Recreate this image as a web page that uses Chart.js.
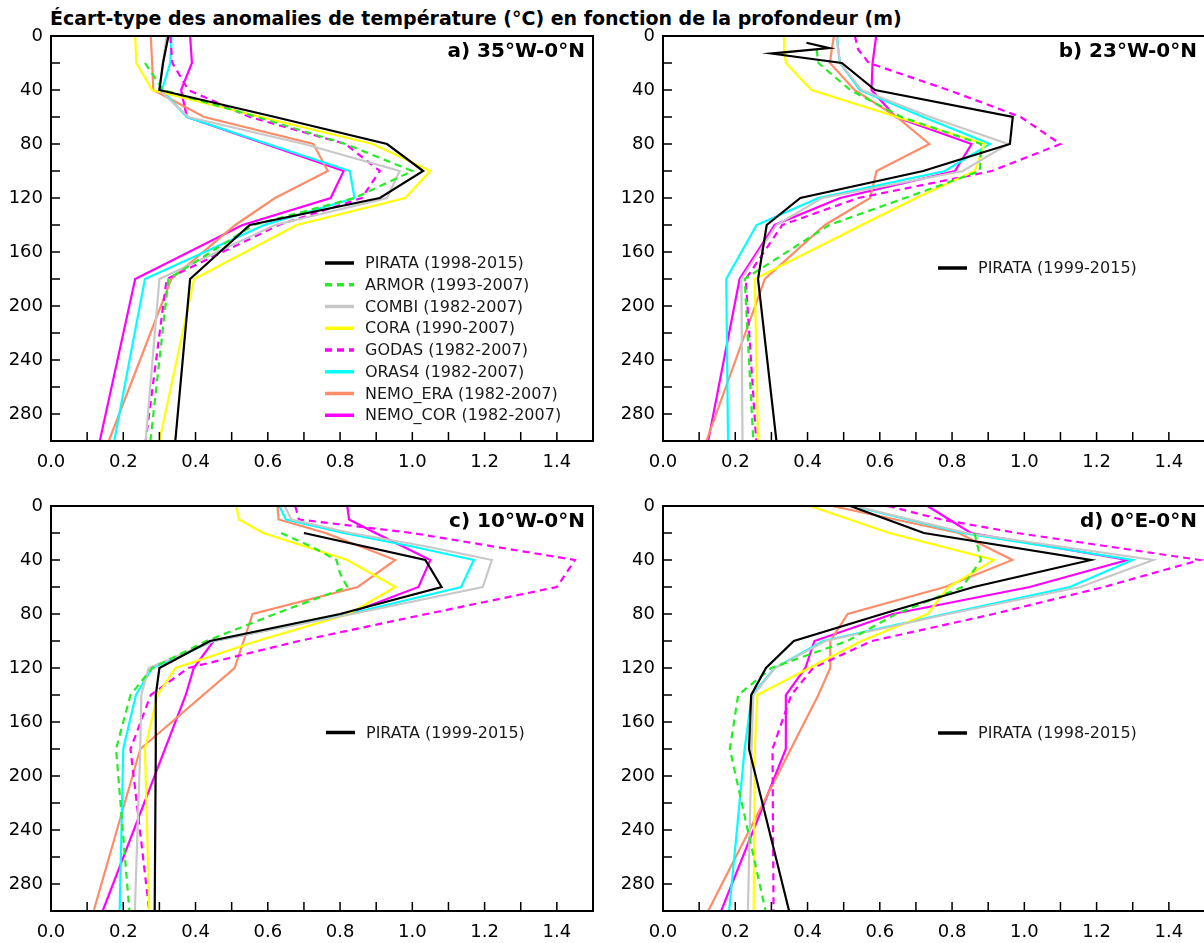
<!DOCTYPE html>
<html><head><meta charset="utf-8">
<script src="https://cdn.jsdelivr.net/npm/chart.js@4"></script>
<style>
html,body{margin:0;padding:0;background:#fff;overflow:hidden;width:1204px;height:943px;position:relative}
#title{position:absolute;left:50px;top:8px;font:bold 19px "DejaVu Sans";white-space:nowrap;color:#000;line-height:21px}
canvas{position:absolute}
</style></head><body>
<div id="title">Écart-type des anomalies de température (°C) en fonction de la profondeur (m)</div>
<canvas id="ca" width="600" height="455" style="left:0;top:24px"></canvas>
<canvas id="cb" width="593" height="455" style="left:612px;top:24px"></canvas>
<canvas id="cc" width="600" height="455" style="left:0;top:494px"></canvas>
<canvas id="cd" width="593" height="455" style="left:612px;top:494px"></canvas>
<script>
// ---- series metadata ----
const seriesNames = ['PIRATA','ARMOR','COMBI','CORA','GODAS','ORAS4','NEMO_ERA','NEMO_COR'];
const seriesYears = ['(1998-2015)','(1993-2007)','(1982-2007)','(1990-2007)','(1982-2007)','(1982-2007)','(1982-2007)','(1982-2007)'];
const seriesColors = ['#000000','#22ee22','#c8c8c8','#ffff00','#ff00ff','#00ffff','#ff8c69','#ff00ff'];
const seriesDashed = [false,true,false,false,true,false,false,false];
const pirataYears = ['(1998-2015)','(1999-2015)','(1999-2015)','(1998-2015)'];
const panelLabels = ['a) 35°W-0°N','b) 23°W-0°N','c) 10°W-0°N','d) 0°E-0°N'];

// ---- panel a : 35°W ----
const depthsA = [0,20,40,60,80,100,120,140,180,300];
const a_PIRATA   = [0.325,0.31,0.30,0.62,0.93,1.03,0.91,0.55,0.385,0.344];
const a_ARMOR    = [null,0.26,0.31,0.57,0.815,1.00,0.84,0.56,0.325,0.275];
const a_COMBI    = [0.32,0.31,0.30,0.38,0.70,0.965,0.93,0.62,0.30,0.262];
const a_CORA     = [0.233,0.236,0.28,0.58,0.89,1.05,0.98,0.68,0.396,0.30];
const a_GODAS    = [0.33,0.336,0.38,0.55,0.815,0.91,0.86,0.63,0.32,0.262];
const a_ORAS4    = [0.334,0.33,0.307,0.376,0.60,0.827,0.84,0.59,0.26,0.175];
const a_NEMO_ERA = [0.276,0.28,0.283,0.424,0.726,0.766,0.62,0.51,0.333,0.16];
const a_NEMO_COR = [0.385,0.39,0.36,0.376,0.593,0.81,0.774,0.53,0.233,0.135];

// ---- panel b : 23°W ----
const depthsB = [0,10,20,40,60,80,100,120,140,180,300];
const depthsB_PIRATA = [5,9,13,20,40,60,80,100,120,140,180,300];
const b_PIRATA   = [0.397,0.46,0.30,0.495,0.587,0.968,0.96,0.72,0.38,0.287,0.263,0.314];
const b_ARMOR    = [null,0.425,0.43,0.518,0.66,0.88,0.877,0.67,0.46,0.226,0.25];
const b_COMBI    = [0.48,0.485,0.49,0.55,0.74,0.955,0.83,0.44,0.314,0.217,0.22];
const b_CORA     = [0.335,0.335,0.34,0.411,0.647,0.89,0.863,0.70,0.55,0.254,0.263];
const b_GODAS    = [0.531,0.54,0.57,0.79,0.99,1.10,0.91,0.54,0.33,0.229,0.258];
const b_ORAS4    = [0.482,0.485,0.49,0.545,0.72,0.905,0.78,0.43,0.259,0.175,0.18];
const b_NEMO_ERA = [0.473,0.467,0.462,0.53,0.647,0.737,0.591,0.573,0.448,0.282,0.12];
const b_NEMO_COR = [0.59,0.585,0.58,0.577,0.644,0.854,0.808,0.49,0.309,0.212,0.125];

// ---- panel c : 10°W ----
const depthsC = [0,10,20,30,40,50,60,80,100,120,140,180,300];
const c_PIRATA   = [null,null,0.70,null,1.036,null,1.081,0.80,0.44,0.30,0.29,0.29,0.287];
const c_ARMOR    = [null,null,0.637,0.72,0.79,0.80,0.82,0.62,0.43,0.28,0.22,0.18,0.217];
const c_COMBI    = [0.647,0.665,0.83,1.04,1.22,null,1.195,0.834,0.45,0.27,0.25,0.247,0.232];
const c_CORA     = [0.513,0.52,0.587,null,0.82,null,0.953,0.824,0.57,0.345,0.295,0.26,0.272];
const c_GODAS    = [0.676,0.686,1.0,null,1.45,null,1.40,1.04,0.686,0.38,0.276,0.22,0.272];
const c_ORAS4    = [0.632,0.65,0.81,1.0,1.17,null,1.135,0.824,0.45,0.28,0.235,0.20,0.19];
const c_NEMO_ERA = [0.627,0.63,0.76,null,0.953,null,0.849,0.558,0.533,0.508,null,0.247,0.118];
const c_NEMO_COR = [0.82,0.825,0.898,null,1.05,null,1.017,0.82,0.45,0.395,0.373,null,0.143];

// ---- panel d : 0°E ----
const depthsD = [0,10,20,40,60,80,100,120,140,180,300];
const d_PIRATA   = [0.518,null,0.722,1.184,0.86,0.607,0.362,0.285,0.244,0.238,0.349];
const d_ARMOR    = [null,null,0.862,0.88,0.828,0.645,0.51,0.30,0.208,0.185,0.284];
const d_COMBI    = [0.53,null,0.84,1.357,1.155,0.79,0.45,0.31,0.25,0.245,0.235];
const d_CORA     = [0.407,null,0.626,0.916,0.79,0.732,0.549,0.405,0.261,0.254,0.251];
const d_GODAS    = [0.622,0.77,0.98,1.486,1.22,0.915,0.578,0.415,0.355,0.303,0.306];
const d_ORAS4    = [0.525,null,0.828,1.299,1.126,0.78,0.443,0.309,0.246,0.226,0.183];
const d_NEMO_ERA = [0.468,null,0.818,0.967,0.78,0.511,0.463,0.463,0.43,null,0.125];
const d_NEMO_COR = [0.732,null,0.852,1.285,1.015,0.636,0.419,0.394,0.34,0.34,0.161];

// ---- axis ticks ----
const xTickStep = 0.1, xLabelEvery = 2, xMax = 1.5;
const yTickStep = 20, yLabelEvery = 40, yMax = 300;

function toPoints(depths, vals){
  return depths.map((d,i)=> vals[i]==null ? null : {x: vals[i], y: d}).filter(p=>p);
}

function makeFramePlugin(cfg){
  return {
    id:'frame_'+cfg.id,
    afterDatasetsDraw(chart){
      const ctx = chart.ctx, a = chart.chartArea, xs = chart.scales.x, ys = chart.scales.y;
      ctx.save();
      ctx.setLineDash([]);
      ctx.strokeStyle = '#000';
      ctx.lineWidth = 1.5;
      ctx.beginPath();
      ys.ticks.forEach(t=>{ const py = ys.getPixelForValue(t.value); ctx.moveTo(a.left,py); ctx.lineTo(a.left+9,py); });
      xs.ticks.forEach(t=>{ const px = xs.getPixelForValue(t.value); ctx.moveTo(px,a.bottom); ctx.lineTo(px,a.bottom-9); });
      ctx.stroke();
      ctx.lineWidth = 2;
      ctx.strokeRect(a.left, a.top, a.right-a.left, a.bottom-a.top);
      // panel label
      ctx.fillStyle = '#000';
      ctx.font = 'bold 20px "DejaVu Sans"';
      ctx.textAlign = 'right';
      ctx.textBaseline = 'middle';
      ctx.fillText(cfg.label, a.right-8, a.top+16);
      // legend
      cfg.legend.forEach((di,k)=>{
        const ds = chart.data.datasets[di];
        const ly = a.top + cfg.legendY + k*21.75;
        const lx = a.left + cfg.legendX;
        ctx.strokeStyle = ds.borderColor;
        ctx.lineWidth = 3.5;
        ctx.setLineDash(ds.borderDash || []);
        ctx.beginPath(); ctx.moveTo(lx,ly); ctx.lineTo(lx+29,ly); ctx.stroke();
        ctx.setLineDash([]);
        ctx.fillStyle = '#1a1a1a';
        ctx.font = '16px "DejaVu Sans"';
        ctx.textAlign = 'left';
        ctx.fillText(ds.label, lx+40, ly+1);
      });
      ctx.restore();
    }
  };
}

function zeroPad(s){ s.paddingTop = 0; s.paddingBottom = 0; s.paddingLeft = 0; s.paddingRight = 0; }

function buildPanel(id, idx, depths, allVals, pirataDepths, legend, legendX, legendY, padRight){
  const datasets = allVals.map((vals,s)=>{
    const dep = (s===0 && pirataDepths) ? pirataDepths : depths;
    const label = seriesNames[s] + ' ' + (s===0 ? pirataYears[idx] : seriesYears[s]);
    return {
      label,
      data: toPoints(dep, vals),
      borderColor: seriesColors[s],
      backgroundColor: seriesColors[s],
      borderWidth: 2.2,
      borderDash: seriesDashed[s] ? [7,5] : [],
      showLine: true,
      pointRadius: 0,
      pointHoverRadius: 0,
      fill: false,
      tension: 0
    };
  });
  new Chart(document.getElementById(id), {
    type: 'scatter',
    data: { datasets },
    options: {
      responsive: false,
      animation: false,
      devicePixelRatio: 1,
      events: [],
      layout: { padding: { top: 12, right: padRight, bottom: 0, left: 0 } },
      plugins: { legend: { display: false }, tooltip: { enabled: false }, title: { display: false } },
      scales: {
        x: {
          type: 'linear', min: 0, max: xMax,
          grid: { display: false, drawTicks: false },
          border: { display: false },
          afterFit: s => { s.height = 38; zeroPad(s); },
          ticks: {
            stepSize: xTickStep, autoSkip: false, maxRotation: 0, minRotation: 0,
            padding: 11, color: '#000',
            font: { family: 'DejaVu Sans', size: 18 },
            callback: v => { const k = Math.round(v/xTickStep); return (k % xLabelEvery === 0 && v < xMax - 1e-6) ? (k*xTickStep).toFixed(1) : ''; }
          }
        },
        y: {
          type: 'linear', min: 0, max: yMax, reverse: true,
          grid: { display: false, drawTicks: false },
          border: { display: false },
          afterFit: s => { s.width = 51; zeroPad(s); },
          ticks: {
            stepSize: yTickStep, autoSkip: false, padding: 8, color: '#000',
            font: { family: 'DejaVu Sans', size: 18 },
            callback: v => (v % yLabelEvery === 0 && v < yMax) ? String(v) : ''
          }
        }
      }
    },
    plugins: [makeFramePlugin({id, label: panelLabels[idx], legend, legendX, legendY})]
  });
}

buildPanel('ca', 0, depthsA, [a_PIRATA,a_ARMOR,a_COMBI,a_CORA,a_GODAS,a_ORAS4,a_NEMO_ERA,a_NEMO_COR], null, [0,1,2,3,4,5,6,7], 274, 227, 7);
buildPanel('cb', 1, depthsB, [b_PIRATA,b_ARMOR,b_COMBI,b_CORA,b_GODAS,b_ORAS4,b_NEMO_ERA,b_NEMO_COR], depthsB_PIRATA, [0], 275, 232, 0);
buildPanel('cc', 2, depthsC, [c_PIRATA,c_ARMOR,c_COMBI,c_CORA,c_GODAS,c_ORAS4,c_NEMO_ERA,c_NEMO_COR], null, [0], 275, 226.5, 7);
buildPanel('cd', 3, depthsD, [d_PIRATA,d_ARMOR,d_COMBI,d_CORA,d_GODAS,d_ORAS4,d_NEMO_ERA,d_NEMO_COR], null, [0], 275, 227, 0);
</script>
</body></html>
